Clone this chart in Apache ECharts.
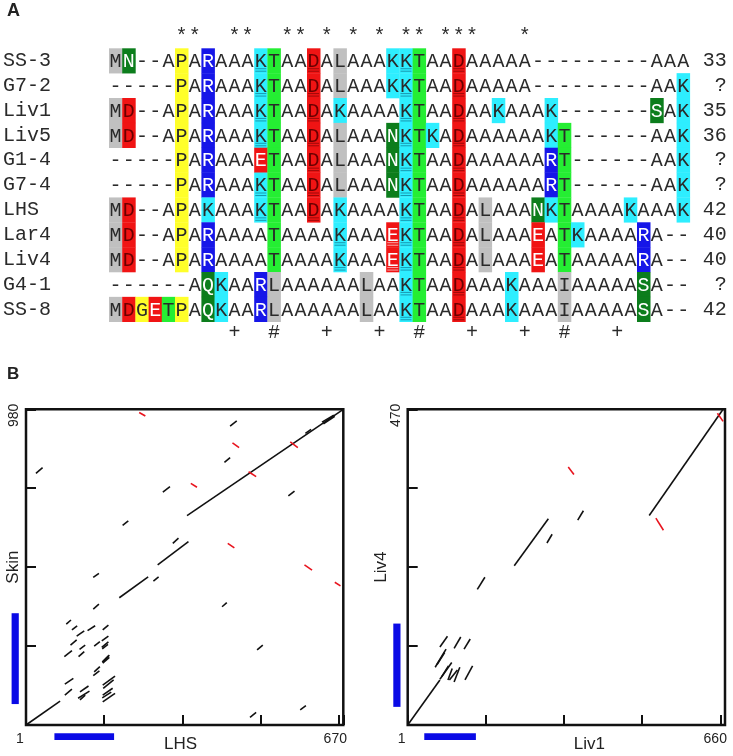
<!DOCTYPE html>
<html><head><meta charset="utf-8">
<script src="https://cdn.jsdelivr.net/npm/echarts@6/dist/echarts.min.js"></script>
<style>html,body{margin:0;padding:0;background:#fff}#c{width:733px;height:756px}</style>
</head><body><div id="c"></div><script>
// ---------- Panel A data ----------
const rowNames = ['SS-3','G7-2','Liv1','Liv5','G1-4','G7-4','LHS','Lar4','Liv4','G4-1','SS-8'];
const rowLengths = ['33','?','35','36','?','?','42','40','40','?','42'];
const sequences = [
  'MN--APARAAAKTAADALAAAKKTAADAAAAA---------AAA',
  '-----PARAAAKTAADALAAAKKTAADAAAAA---------AAK',
  'MD--APARAAAKTAADAKAAAAKTAADAAKAAAK-------SAK',
  'MD--APARAAAKTAADALAAANKTKADAAAAAAKT------AAK',
  '-----PARAAAETAADALAAANKTAADAAAAAART------AAK',
  '-----PARAAAKTAADALAAANKTAADAAAAAART------AAK',
  'MD--APAKAAAKTAADAKAAAAKTAADALAAANKTAAAAKAAAK',
  'MD--APARAAAATAAAAKAAAEKTAADALAAAEATKAAAARA--',
  'MD--APARAAAATAAAAKAAAEKTAADALAAAEATAAAAARA--',
  '------AQKAARLAAAAAALAAKTAADAAAKAAAIAAAAASA--',
  'MDGETPAQKAARLAAAAAALAAKTAADAAAKAAAIAAAAASA--'
];
const conservedCols = [5,6,9,10,13,14,16,18,20,22,23,25,26,27,31];
const plusCols = [9,16,20,27,31,38];
const hashCols = [12,23,34];
const underlinedCells = [
  [0,11],[1,11],[2,11],[3,11],[5,11],[6,11],
  [0,15],[1,15],[2,15],[3,15],[4,15],[5,15],[6,15],
  [7,17],[8,17],[7,21],[8,21],
  [0,22],[1,22],[2,22],[3,22],[4,22],[5,22],[6,22],[7,22],[8,22],[9,22],[10,22],
  [0,26],[1,26],[2,26],[3,26],[4,26],[5,26],[6,26],[7,26],[8,26],[9,26],[10,26]
];

// ---------- Panel B data ----------
// segments [x0, y0, x1, y1] in sequence positions
const lhsSkinBlack = [
  [0,0,72,74],[197,395,258,460],[278,497,343,569],[340,650,670,980],
  [625,940,650,962],[628,935,652,958],[590,905,602,918],
  [431,928,445,944],[419,815,431,830],[21,781,35,799],[289,723,304,740],
  [554,711,567,726],[204,620,216,634],[310,564,322,580],[269,447,280,460],
  [142,458,154,471],[142,360,154,375],[414,367,424,380],[488,233,500,248],
  [579,47,591,60],[473,24,486,39],
  [85,313,95,326],[97,295,108,308],[107,276,123,292],[130,293,146,308],
  [162,295,174,310],[94,248,107,264],[113,235,125,248],[160,261,174,276],
  [144,245,156,259],[160,241,174,258],[161,236,173,250],[81,212,97,231],
  [111,212,123,228],[162,192,176,210],[163,198,176,217],[161,195,174,214],
  [144,165,156,181],[142,153,155,168],[82,127,100,145],[82,93,97,111],
  [114,103,132,121],[110,83,134,105],[114,78,125,93],[162,124,188,152],
  [163,114,185,140],[162,93,183,114],[162,72,188,98],[161,84,180,102]
];
const lhsSkinRed = [
  [239,970,252,959],[436,876,450,861],[348,750,361,738],[470,786,486,771],
  [558,879,574,861],[426,564,440,550],[588,497,604,481],[652,443,664,432]
];
const liv1Liv4Black = [
  [0,0,68,67],[225,237,297,307],[294,271,305,284],[359,305,371,319],
  [510,312,666,470],[147,202,163,220],
  [68,116,84,132],[98,114,112,131],[119,113,132,128],[58,86,81,113],
  [62,90,78,108],[68,68,93,93],[72,72,86,88],[98,64,110,86],
  [88,67,105,82],[85,67,94,84],[121,67,137,88]
];
const liv1Liv4Red = [
  [654,464,666,452],[339,384,351,373],[524,308,540,290]
];
const lhsRepeatX = [60,186];
const skinRepeatY = [65,347];
const liv1RepeatX = [35,144];
const liv4RepeatY = [27,151];

// ---------- styles ----------
const residueColor = {M:'#c0c0c0',L:'#c0c0c0',I:'#c0c0c0',N:'#0c7d1c',S:'#0c7d1c',Q:'#0c7d1c',
  P:'#ffff2a',G:'#ffff2a',R:'#1616e8',K:'#2eeeff',T:'#25ee33',D:'#f01414',E:'#f01414'};
const whiteText = 'NSQRE';
const mono = 'Liberation Mono';
const sans = 'Liberation Sans';
const ulSet = new Set(underlinedCells.map(a => a[0] + ':' + a[1]));
const colIdx = sequences[0].split('').map((_, i) => i);

const cells = [];
sequences.forEach((s, r) => s.split('').forEach((ch, c) => cells.push([c, r])));

function renderCell(params, api) {
  const c = api.value(0), r = api.value(1);
  const ch = sequences[r][c];
  const p = api.coord([c, r]);
  const s = api.size([1, 1]);
  const children = [];
  const bg = residueColor[ch];
  if (bg) {
    children.push({type:'rect', shape:{x:p[0]-s[0]/2, y:p[1]-s[1]/2, width:s[0]+0.3, height:s[1]+0.3}, style:{fill:bg}});
  }
  let tc = '#2a2a2a';
  if (whiteText.indexOf(ch) >= 0) tc = '#ffffff';
  else if (ch === 'D') tc = '#6a0000';
  children.push({type:'text', x:p[0], y:p[1]+1, style:{text:ch, fill:tc, font:'20px "' + mono + '"', align:'center', verticalAlign:'middle'}});
  if (ulSet.has(r + ':' + c)) {
    const lc = ch === 'K' ? 'rgba(0,60,90,0.6)' : (ch === 'E' ? 'rgba(255,255,255,0.8)' : 'rgba(90,0,0,0.7)');
    [8, 10.5].forEach(dy => children.push({type:'line', shape:{x1:p[0]-5.5, y1:p[1]+dy, x2:p[0]+5.5, y2:p[1]+dy}, style:{stroke:lc, lineWidth:0.8}}));
  }
  return {type:'group', children};
}

function segLines(segs, color, xi, yi) {
  return {type:'lines', coordinateSystem:'cartesian2d', xAxisIndex:xi, yAxisIndex:yi, polyline:false, silent:true,
    lineStyle:{color:color, width:1.6, opacity:1}, data:segs.map(s => ({coords:[[s[0], s[1]], [s[2], s[3]]]}))};
}
function regionBar(range, dir, xi, yi) {
  return {type:'custom', xAxisIndex:xi, yAxisIndex:yi, clip:false, silent:true, data:[range],
    renderItem:function(params, api) {
      const a = api.value(0), b = api.value(1);
      if (dir === 'x') {
        const p0 = api.coord([a, 0]), p1 = api.coord([b, 0]);
        return {type:'rect', shape:{x:p0[0], y:p0[1]+8.3, width:p1[0]-p0[0], height:6.7}, style:{fill:'#0a0ae6'}};
      }
      const p0 = api.coord([0, a]), p1 = api.coord([0, b]);
      return {type:'rect', shape:{x:p0[0]-14.4, y:p1[1], width:7.2, height:p0[1]-p1[1]}, style:{fill:'#0a0ae6'}};
    }};
}

function dotXAxis(gi, lastLabel, lastVal, lastPad, name, namePad) {
  return {type:'value', gridIndex:gi, min:0, max:670, interval:165,
    axisLine:{show:false}, splitLine:{show:false},
    axisTick:{inside:true, length:10, lineStyle:{color:'#111', width:2}},
    axisLabel:{margin:7, color:'#222', fontFamily:sans, fontSize:14,
      formatter:function(v){ if (v === 0) return '{a|1}'; if (Math.abs(v-lastVal) < 0.01) return '{b|' + lastLabel + '}'; return ''; },
      rich:{a:{padding:[0,12,0,0], fontFamily:sans, fontSize:14, color:'#222'}, b:{padding:[0,lastPad,0,0], fontFamily:sans, fontSize:14, color:'#222'}}},
    name:name, nameLocation:'middle', nameGap:11, nameMoveOverlap:false,
    nameTextStyle:{fontFamily:sans, fontSize:17, color:'#222', padding:namePad}};
}
function dotYAxis(gi, maxV, interval, name, nameGap) {
  return {type:'value', gridIndex:gi, min:0, max:maxV, interval:interval,
    axisLine:{show:false}, splitLine:{show:false},
    axisTick:{inside:true, length:10, lineStyle:{color:'#111', width:2}},
    axisLabel:{margin:5, rotate:90, color:'#222', fontFamily:sans, fontSize:14,
      formatter:function(v){ return Math.abs(v-maxV) < 0.01 ? '{t|' + maxV + '}' : ''; },
      rich:{t:{padding:[0,12,0,0], fontFamily:sans, fontSize:14, color:'#222'}}},
    name:name, nameLocation:'middle', nameRotate:90, nameGap:nameGap, nameMoveOverlap:false,
    nameTextStyle:{fontFamily:sans, fontSize:17, color:'#222'}};
}

const chart = echarts.init(document.getElementById('c'), null, {renderer:'canvas'});
chart.setOption({
  animation:false,
  backgroundColor:'#fff',
  title:[
    {text:'A', left:7, top:2, padding:0, textStyle:{fontFamily:sans, fontWeight:'bold', fontSize:18, color:'#222'}},
    {text:'B', left:7, top:366, padding:0, textStyle:{fontFamily:sans, fontWeight:'bold', fontSize:17, color:'#222'}}
  ],
  grid:[
    {left:109, top:48.3, width:580.8, height:273.4, outerBoundsMode:'none', containLabel:false},
    {left:26, top:409.3, width:317.3, height:315.7, show:true, borderColor:'#111', borderWidth:2.5, backgroundColor:'transparent', outerBoundsMode:'none', containLabel:false},
    {left:407.7, top:409.3, width:317.3, height:315.7, show:true, borderColor:'#111', borderWidth:2.5, backgroundColor:'transparent', outerBoundsMode:'none', containLabel:false}
  ],
  xAxis:[
    {type:'category', gridIndex:0, position:'top', data:colIdx, axisLine:{show:false}, axisTick:{show:false}, splitLine:{show:false},
      axisLabel:{interval:0, margin:2, fontFamily:mono, fontSize:20, color:'#2a2a2a',
        formatter:function(v, i){ return conservedCols.indexOf(i) >= 0 ? '*' : ''; }}},
    {type:'category', gridIndex:0, position:'bottom', data:colIdx, axisLine:{show:false}, axisTick:{show:false}, splitLine:{show:false},
      axisLabel:{interval:0, margin:1, fontFamily:mono, fontSize:20, color:'#2a2a2a',
        formatter:function(v, i){ return plusCols.indexOf(i) >= 0 ? '+' : (hashCols.indexOf(i) >= 0 ? '#' : ''); }}},
    dotXAxis(1, '670', 670, 16, 'LHS', [0,8,0,0]),
    dotXAxis(2, '660', 660, 10, 'Liv1', [0,0,0,46])
  ],
  yAxis:[
    {type:'category', gridIndex:0, inverse:true, data:rowNames, axisLine:{show:false}, axisTick:{show:false}, splitLine:{show:false},
      axisLabel:{interval:0, align:'left', margin:106, fontFamily:mono, fontSize:20, color:'#2a2a2a'}},
    {type:'category', gridIndex:0, inverse:true, position:'right', data:rowLengths, axisLine:{show:false}, axisTick:{show:false}, splitLine:{show:false},
      axisLabel:{interval:0, align:'right', margin:37, fontFamily:mono, fontSize:20, color:'#2a2a2a'}},
    dotYAxis(1, 980, 245, 'Skin', 4),
    dotYAxis(2, 470, 117.5, 'Liv4', 18)
  ],
  series:[
    {type:'custom', xAxisIndex:0, yAxisIndex:0, data:cells, renderItem:renderCell, silent:true, clip:false},
    segLines(lhsSkinBlack, '#111', 2, 2),
    segLines(lhsSkinRed, '#e8141e', 2, 2),
    segLines(liv1Liv4Black, '#111', 3, 3),
    segLines(liv1Liv4Red, '#e8141e', 3, 3),
    regionBar(lhsRepeatX, 'x', 2, 2),
    regionBar(skinRepeatY, 'y', 2, 2),
    regionBar(liv1RepeatX, 'x', 3, 3),
    regionBar(liv4RepeatY, 'y', 3, 3)
  ]
});
</script></body></html>
